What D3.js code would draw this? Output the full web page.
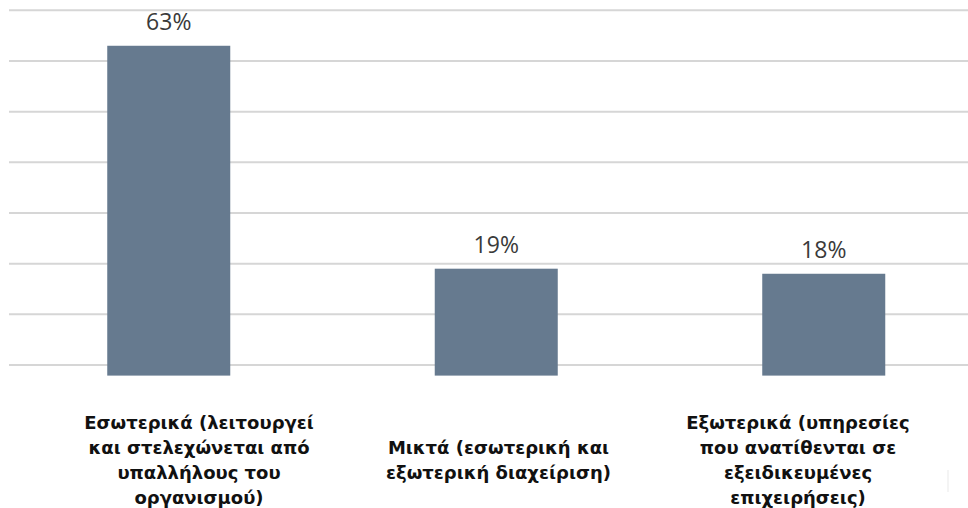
<!DOCTYPE html>
<html>
<head>
<meta charset="utf-8">
<script src="https://cdn.jsdelivr.net/npm/d3@7"></script>
<style>
  html, body { margin: 0; padding: 0; background: #ffffff; }
  svg { display: block; }
</style>
</head>
<body>
<script>
// ---- data ----
const categories = [
  "Εσωτερικά (λειτουργεί\nκαι στελεχώνεται από\nυπαλλήλους του\nοργανισμού)",
  "Μικτά (εσωτερική και\nεξωτερική διαχείριση)",
  "Εξωτερικά (υπηρεσίες\nπου ανατίθενται σε\nεξειδικευμένες\nεπιχειρήσεις)"
];
const values = [63, 19, 18];
const gridTicks = [0, 10, 20, 30, 40, 50, 60, 70];

// ---- layout ----
const W = 968, H = 508;
const svg = d3.select("body").append("svg").attr("width", W).attr("height", H);

const x = d3.scaleBand()
  .domain(categories)
  .range([5, 987.5])
  .paddingInner(0.6244)
  .paddingOuter(0.3122);

const labelX = d3.scalePoint()
  .domain(categories)
  .range([199, 798]);

const y = d3.scaleLinear()
  .domain([-2.1, 70])
  .range([375.6, 10.3]);

// gridlines
svg.append("g").selectAll("line")
  .data(gridTicks)
  .join("line")
  .attr("x1", 9).attr("x2", W)
  .attr("y1", d => y(d)).attr("y2", d => y(d))
  .attr("stroke", "#d6d6d6")
  .attr("stroke-width", 2);

// bars
svg.append("g").selectAll("rect")
  .data(values)
  .join("rect")
  .attr("x", (d, i) => x(categories[i]))
  .attr("width", x.bandwidth())
  .attr("y", d => y(d))
  .attr("height", d => y(-2.1) - y(d))
  .attr("fill", "#667a8f");

// value labels
svg.append("g").selectAll("text")
  .data(values)
  .join("text")
  .attr("x", (d, i) => x(categories[i]) + x.bandwidth() / 2)
  .attr("y", d => y(d) - 15.8)
  .attr("text-anchor", "middle")
  .attr("font-family", "'Open Sans', sans-serif")
  .attr("font-size", 23)
  .attr("fill", "#3a3a3a")
  .text(d => d + "%");

// category labels
const lineH = 25, midY = 466.5;
const cg = svg.append("g");
categories.forEach(c => {
  const lines = c.split("\n");
  const t = cg.append("text")
    .attr("text-anchor", "middle")
    .attr("font-family", "'DejaVu Sans', sans-serif")
    .attr("font-weight", "bold")
    .attr("font-size", 18)
    .attr("fill", "#111111");
  lines.forEach((ln, i) => {
    t.append("tspan")
      .attr("x", labelX(c))
      .attr("y", midY + (i - (lines.length - 1) / 2) * lineH)
      .text(ln);
  });
});

// faint mark at bottom right
svg.append("line")
  .attr("x1", 948).attr("x2", 948)
  .attr("y1", 470).attr("y2", 492)
  .attr("stroke", "#f0f0f0")
  .attr("stroke-width", 1.5);
</script>
</body>
</html>
